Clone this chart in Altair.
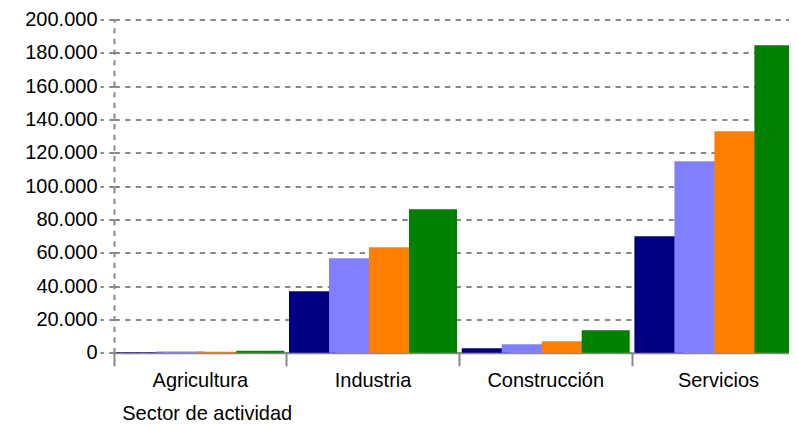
import altair as alt
import pandas as pd

# ---- data ----
sectores = ["Agricultura", "Industria", "Construcción", "Servicios"]
series = ["Serie 1", "Serie 2", "Serie 3", "Serie 4"]
serie1 = [300, 37000, 2800, 70000]
serie2 = [800, 56800, 5200, 115000]
serie3 = [700, 63400, 7000, 133000]
serie4 = [1300, 86200, 13600, 184600]
colores = ["#000080", "#8080FF", "#FF8000", "#008000"]
y_ticks = [0, 20000, 40000, 60000, 80000, 100000, 120000, 140000, 160000, 180000, 200000]

valores = [serie1, serie2, serie3, serie4]
rows = []
for i, s in enumerate(sectores):
    for j, name in enumerate(series):
        rows.append({"sector": s, "serie": name, "valor": valores[j][i]})
df = pd.DataFrame(rows)

FONT = "Liberation Sans"
GREY = "#888888"
DASH = [5.33, 5.33]

bars = alt.Chart(df).mark_bar(width=alt.RelativeBandSize(1.2)).encode(
    x=alt.X(
        "sector:N",
        sort=sectores,
        scale=alt.Scale(paddingInner=0, paddingOuter=0, rangeMax=690.8),
        axis=alt.Axis(
            title="Sector de actividad",
            labelAngle=0,
            bandPosition=0,
            labelFont=FONT,
            labelFontSize=20,
            labelColor="black",
            labelPadding=5,
            tickSize=13,
            tickColor=GREY,
            tickWidth=2,
            domainColor=GREY,
            domainWidth=2,
            titleFont=FONT,
            titleFontSize=20,
            titleFontWeight="normal",
            titleColor="black",
            titleAnchor="start",
            titleAlign="left",
            titleBaseline="alphabetic",
            titleX=7.7,
            titleY=66.5,
            grid=False,
        ),
    ),
    xOffset=alt.XOffset(
        "serie:N",
        sort=series,
        scale=alt.Scale(range=[19.57, 179.57], paddingInner=0, paddingOuter=0),
    ),
    y=alt.Y(
        "valor:Q",
        scale=alt.Scale(domain=[0, 200000], nice=False),
        axis=alt.Axis(
            title=None,
            values=y_ticks,
            labelExpr="replace(format(datum.value, ','), ',', '.')",
            labelFont=FONT,
            labelFontSize=20,
            labelColor="black",
            labelPadding=3,
            grid=True,
            gridColor=GREY,
            gridDash=DASH,
            gridWidth=2,
            domainColor=GREY,
            domainDash=DASH,
            domainWidth=2,
            tickColor=GREY,
            tickDash=DASH,
            tickSize=14,
            tickWidth=2,
        ),
    ),
    color=alt.Color("serie:N", scale=alt.Scale(domain=series, range=colores), legend=None),
)

chart = bars.properties(
    width=675,
    height=333.3,
    autosize=alt.AutoSizeParams(type="none"),
    padding={"left": 106, "top": 11.5, "right": 0, "bottom": 72},
    background="white",
).configure_view(stroke=None)

chart.save("out.html", embed_options={"renderer": "svg", "actions": False})
